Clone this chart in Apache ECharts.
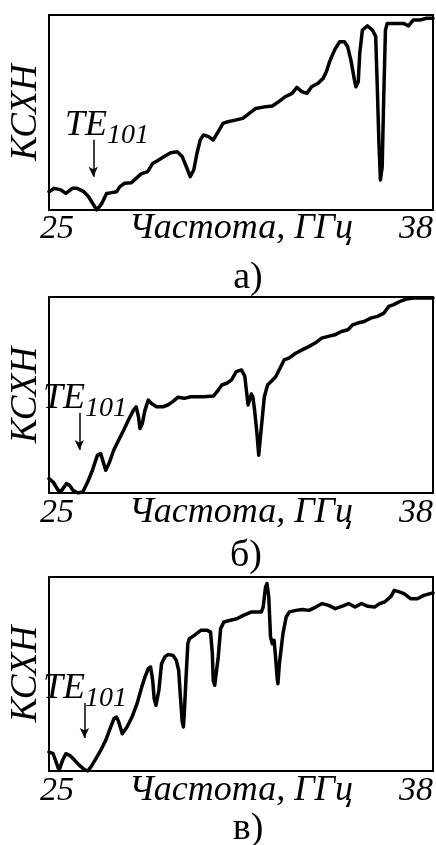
<!DOCTYPE html>
<html><head><meta charset="utf-8">
<script src="https://cdn.jsdelivr.net/npm/echarts@6/dist/echarts.min.js"></script>
<style>html,body{margin:0;padding:0;background:#fff}#c{width:436px;height:845px}</style>
</head><body><div id="c"></div>
<script>
// Frequency (GHz) and VSWR (relative units 0..100)
const freqA = [25.0,25.18,25.40,25.57,25.79,25.95,26.18,26.34,26.51,26.62,26.79,26.95,27.12,27.29,27.40,27.56,27.79,27.95,28.12,28.34,28.51,28.67,28.90,29.12,29.34,29.51,29.67,29.78,29.90,30.01,30.12,30.23,30.40,30.56,30.73,30.89,31.06,31.34,31.56,31.78,32.00,32.34,32.56,32.78,33.00,33.23,33.39,33.56,33.73,33.89,34.11,34.28,34.39,34.50,34.67,34.84,35.00,35.11,35.22,35.34,35.39,35.47,35.52,35.61,35.78,35.95,36.06,36.11,36.17,36.22,36.28,36.33,36.39,36.45,36.67,37.00,37.17,37.33,37.55,37.78,38.0];
const kswA = [9.4,11.1,10.3,8.5,11.1,11.1,9.4,6.8,2.6,0,3.4,8.5,8.9,9.4,12.0,13.7,14.0,16.2,18.5,19.7,23.9,25.3,27.4,29.4,29.9,27.4,21.4,17.1,20.5,29.1,35.9,38.5,37.6,35.9,40.2,44.4,45.3,46.2,47.0,49.6,52.1,53.0,53.3,55.6,58.1,59.8,62.9,60.7,59.8,63.2,65.0,67.5,70.9,76.1,82.1,86.3,86.3,83.8,76.9,66.7,63.2,65.8,80.3,92.3,94.4,92.3,88.9,65.0,34.2,15.4,22.2,56.4,92.3,95.7,95.7,95.7,94.4,97.4,97.4,98.3,98.3];

const freqB = [25.00,25.14,25.31,25.42,25.59,25.70,25.81,25.98,26.14,26.31,26.47,26.64,26.75,26.92,27.03,27.19,27.36,27.53,27.69,27.86,27.95,28.03,28.08,28.16,28.25,28.36,28.47,28.64,28.86,29.02,29.19,29.36,29.58,29.80,30.02,30.24,30.57,30.69,30.85,31.02,31.18,31.34,31.52,31.63,31.68,31.74,31.79,31.85,31.90,31.96,32.04,32.10,32.18,32.29,32.40,32.57,32.68,32.79,32.96,33.12,33.35,33.57,33.79,34.01,34.23,34.45,34.68,34.90,35.12,35.28,35.45,35.67,35.89,36.12,36.34,36.50,36.67,36.89,37.11,37.34,37.67,38.00];
const kswB = [7.3,5.6,1.4,1.0,4.8,3.9,1.4,0,0.5,5.6,11.6,19.3,20.1,11.6,15.0,21.8,27.0,32.1,37.2,42.3,44.0,38.9,32.9,35.5,42.3,47.4,45.7,44.0,44.0,44.9,46.6,48.8,48.3,49.1,49.1,49.1,49.5,51.7,55.1,56.0,57.7,61.9,62.8,59.4,52.6,44.9,45.7,50.5,49.1,42.3,30.4,19.3,32.1,49.1,55.1,57.7,59.4,62.8,67.9,68.8,71.3,73.0,74.7,76.5,79.0,79.9,80.7,82.4,83.3,85.8,86.7,87.5,89.2,90.1,91.8,95.2,96.1,97.8,99.0,99.5,99.5,99.5];

const freqC = [25.00,25.14,25.26,25.34,25.46,25.57,25.70,25.87,26.03,26.20,26.31,26.42,26.59,26.75,26.92,27.09,27.20,27.29,27.36,27.48,27.53,27.64,27.81,27.98,28.14,28.25,28.36,28.44,28.51,28.56,28.62,28.67,28.72,28.81,28.92,29.03,29.20,29.31,29.39,29.45,29.51,29.55,29.58,29.64,29.70,29.75,29.92,30.14,30.36,30.47,30.53,30.56,30.61,30.67,30.73,30.81,30.92,31.14,31.36,31.58,31.86,32.19,32.25,32.33,32.38,32.44,32.47,32.50,32.56,32.62,32.67,32.72,32.75,32.80,32.92,33.03,33.14,33.36,33.58,33.80,34.03,34.25,34.47,34.69,34.91,35.14,35.36,35.58,35.80,36.02,36.19,36.36,36.58,36.69,36.86,37.02,37.24,37.47,37.69,38.00];
const kswC = [9.8,8.9,3.8,0.3,5.5,8.9,8.1,5.5,2.9,0.7,0,2.1,6.4,10.7,15.8,22.7,27.0,27.8,25.3,19.2,19.2,22.7,27.8,34.7,43.3,48.5,52.7,53.6,46.7,37.3,33.8,34.7,41.6,55.3,58.8,60.0,59.6,57.0,51.9,38.1,25.3,22.7,29.6,48.5,65.6,68.2,69.9,72.5,72.5,71.6,60.5,46.7,44.2,45.0,58.8,73.4,76.8,77.7,78.5,80.2,82.0,82.0,84.5,94.8,96.6,89.7,79.4,69.1,65.6,67.4,58.8,48.5,45.0,55.3,70.8,79.4,82.0,82.8,83.2,82.8,84.5,86.3,85.4,83.7,84.9,86.3,84.5,86.3,84.9,84.5,86.3,87.1,90.0,93.1,92.3,91.4,88.8,88.8,90.5,91.8];

const xTickLabels = [25, 38];
const panelLabels = ['а)', 'б)', 'в)'];
const xName = 'Частота, ГГц';
const yName = 'КСХН';
// TE101 arrow: [freq, from, to]
const arrowA = [26.5, 36, 17];
const arrowB = [26.03, 41, 22];
const arrowC = [26.2, 35, 17];

const zip = (f, v) => f.map((x, i) => [x, v[i]]);
const serif = "'Liberation Serif', 'DejaVu Serif', serif";

const grids = [
  {left: 43, top: 15, width: 390, height: 195},
  {left: 43, top: 297, width: 390, height: 196},
  {left: 43, top: 577, width: 390, height: 194}
].map(g => Object.assign(g, {show: true, borderColor: '#000', borderWidth: 2, containLabel: false}));

const xAxes = grids.map((g, i) => ({
  type: 'value', gridIndex: i, min: 25, max: 38,
  axisLine: {show: true, lineStyle: {color: '#000', width: 2}},
  axisTick: {show: false}, splitLine: {show: false},
  axisLabel: {
    customValues: xTickLabels, margin: i === 0 ? 2 : 3,
    alignMinLabel: 'left', alignMaxLabel: 'right',
    padding: [0, 0, 0, -9],
    color: '#000', fontFamily: serif, fontStyle: 'italic', fontSize: 34
  },
  name: xName, nameLocation: 'middle', nameGap: i === 0 ? 1 : 2, nameMoveOverlap: false,
  nameTextStyle: {color: '#000', fontFamily: serif, fontStyle: 'italic', fontSize: 36, verticalAlign: 'top'}
}));

const yAxes = grids.map((g, i) => ({
  type: 'value', gridIndex: i, min: 0, max: 100,
  axisLine: {show: true, lineStyle: {color: '#000', width: 2}},
  axisTick: {show: false}, splitLine: {show: false}, axisLabel: {show: false},
  name: yName, nameLocation: 'middle', nameGap: 4, nameRotate: 90,
  nameTextStyle: {color: '#000', fontFamily: serif, fontStyle: 'italic', fontSize: 37}
}));

const arrows = [arrowA, arrowB, arrowC];
const datas = [zip(freqA, kswA), zip(freqB, kswB), zip(freqC, kswC)];
const series = datas.map((d, i) => ({
  type: 'line', xAxisIndex: i, yAxisIndex: i, data: d,
  showSymbol: false, silent: true, animation: false,
  lineStyle: {color: '#000', width: 3.5, join: 'round', cap: 'round'},
  markLine: {
    silent: true, animation: false,
    symbol: ['none', 'arrow'], symbolSize: [7, 10],
    lineStyle: {color: '#000', width: 1.5, type: 'solid'},
    label: {show: false},
    data: [[{coord: [arrows[i][0], arrows[i][1]]}, {coord: [arrows[i][0], arrows[i][2]]}]]
  }
}));

const teLabels = [[65, 108], [43, 381], [43, 671]];
const subLabelPos = [[248, 278], [246, 556], [248, 829]];
const graphic = [];
teLabels.forEach(p => {
  graphic.push({type: 'text', left: p[0], top: p[1], style: {text: 'TE', font: `italic 36px ${serif}`, fill: '#000'}});
  graphic.push({type: 'text', left: p[0] + 42, top: p[1] + 14, style: {text: '101', font: `italic 28px ${serif}`, fill: '#000'}});
});
subLabelPos.forEach((p, i) => {
  graphic.push({type: 'text', x: p[0], y: p[1], style: {text: panelLabels[i], font: `38px ${serif}`, fill: '#000', align: 'center', verticalAlign: 'middle'}});
});

const chart = echarts.init(document.getElementById('c'), null, {renderer: 'canvas'});
chart.setOption({
  backgroundColor: '#fff', animation: false,
  grid: grids, xAxis: xAxes, yAxis: yAxes, series, graphic
});
</script></body></html>
